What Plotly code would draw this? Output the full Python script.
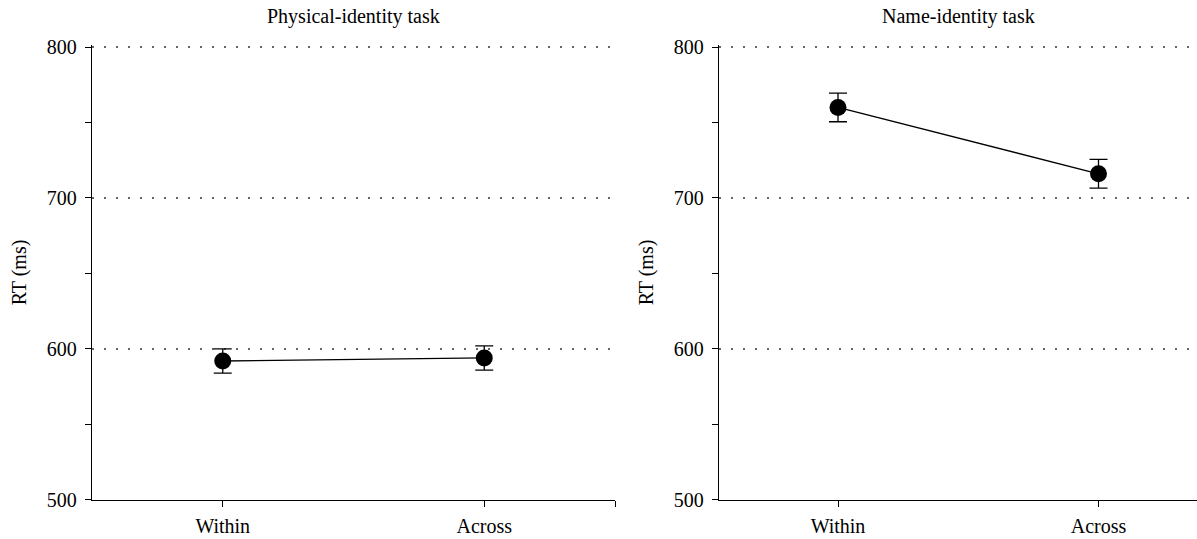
import plotly.graph_objects as go

categories = ["Within", "Across"]
physical_rt = [592, 594]
physical_err = [8, 8]
name_rt = [760, 716]
name_err = [9.5, 9.5]
panel_titles = ["Physical-identity task", "Name-identity task"]
y_ticks = [500, 600, 700, 800]

FONT = "Liberation Serif"
W, H = 1197, 539
ML, MR, MT, MB = 92, 0, 45, 39
pw = W - ML - MR

xpos = list(range(len(categories)))

fig = go.Figure()

def add_series(vals, errs, xa, ya):
    fig.add_trace(go.Scatter(
        x=xpos, y=vals, xaxis=xa, yaxis=ya, mode="lines+markers",
        line=dict(color="black", width=1.3),
        marker=dict(color="black", size=17, symbol="circle"),
        error_y=dict(type="data", array=errs, visible=True, color="black",
                     thickness=1.3, width=9),
        showlegend=False, cliponaxis=False,
    ))

add_series(physical_rt, physical_err, "x", "y")
add_series(name_rt, name_err, "x2", "y2")

d1 = [0, (615 - ML) / pw]
d2 = [(719 - ML) / pw, 1.0]
unit = 260.5
r2_start = -(838 - 719) / unit
r2 = [r2_start, r2_start + (W - 719) / unit]

xcommon = dict(showgrid=False, zeroline=False, showline=True, linecolor="black",
               linewidth=1.3, ticks="outside", ticklen=6, tickwidth=1.3,
               tickcolor="black", tickfont=dict(family=FONT, size=20, color="black"),
               ticklabelstandoff=2, automargin=False)
ycommon = dict(range=[499.9, 801.33], tickvals=y_ticks, showgrid=True,
               gridcolor="#666666", griddash="1.5px,10.5px", gridwidth=1.5,
               zeroline=False, showline=True, linecolor="black", linewidth=1.3,
               ticks="outside", ticklen=6, tickwidth=1.3, tickcolor="black",
               minor=dict(ticks="outside", ticklen=6, tickwidth=1.3, tickcolor="black",
                          dtick=50, showgrid=False),
               tickfont=dict(family=FONT, size=20, color="black"),
               ticklabelstandoff=4,
               title=dict(text="RT (ms)", font=dict(family=FONT, size=20, color="black"),
                          standoff=14),
               automargin=False)

fig.update_layout(
    width=W, height=H,
    margin=dict(l=ML, r=MR, t=MT, b=MB),
    plot_bgcolor="white", paper_bgcolor="white",
    xaxis=dict(domain=d1, range=[-0.5, 1.5], tickvals=[0, 1, 1.5],
               ticktext=[categories[0], categories[1], ""], **xcommon),
    xaxis2=dict(domain=d2, range=r2, tickvals=xpos, ticktext=categories, **xcommon),
    yaxis=dict(anchor="x", **ycommon),
    yaxis2=dict(anchor="x2", **ycommon),
)

for i, t in enumerate(panel_titles):
    dom = d1 if i == 0 else d2
    fig.add_annotation(text=t, x=(dom[0] + dom[1]) / 2, xref="paper",
                       xanchor="center", yanchor="middle",
                       y=1, yref="paper", yshift=29, showarrow=False,
                       font=dict(family=FONT, size=20, color="black"))

fig.write_html("out.html", config={"displayModeBar": False},
               post_script="document.body.style.margin='0';document.body.style.overflow='hidden';")
